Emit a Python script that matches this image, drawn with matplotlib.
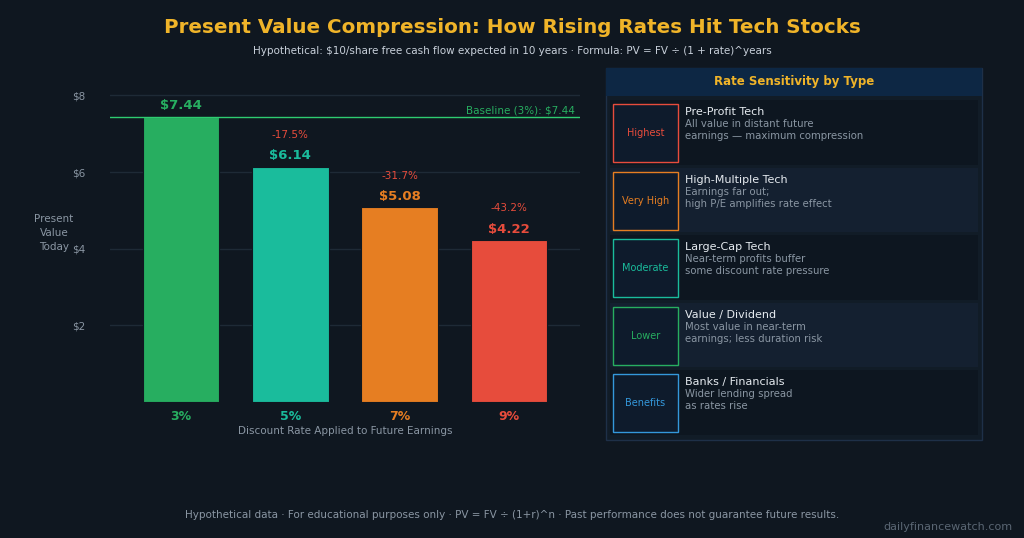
import matplotlib.pyplot as plt
from matplotlib.patches import Rectangle

rates = ["3%", "5%", "7%", "9%"]
values = [7.44, 6.14, 5.08, 4.22]
changes = [None, "-17.5%", "-31.7%", "-43.2%"]
colors = ["#27ae60", "#1abc9c", "#e67e22", "#e74c3c"]

types = ["Pre-Profit Tech", "High-Multiple Tech", "Large-Cap Tech", "Value / Dividend", "Banks / Financials"]
levels = ["Highest", "Very High", "Moderate", "Lower", "Benefits"]
descs = ["All value in distant future\nearnings — maximum compression",
         "Earnings far out;\nhigh P/E amplifies rate effect",
         "Near-term profits buffer\nsome discount rate pressure",
         "Most value in near-term\nearnings; less duration risk",
         "Wider lending spread\nas rates rise"]
level_colors = ["#e74c3c", "#e67e22", "#1abc9c", "#27ae60", "#3498db"]

BG = "#0f1720"
W, H = 1024, 538
fig = plt.figure(figsize=(W / 100, H / 100), dpi=100, facecolor=BG)

def fx(x): return x / W
def fy(y): return 1 - y / H

fig.text(0.5, fy(28), "Present Value Compression: How Rising Rates Hit Tech Stocks",
         ha="center", va="center", color="#f0b429", fontsize=14.3, fontweight="bold")
fig.text(0.5, fy(51), "Hypothetical: $10/share free cash flow expected in 10 years · Formula: PV = FV ÷ (1 + rate)^years",
         ha="center", va="center", color="#c8d0da", fontsize=7.5)

ax = fig.add_axes([fx(110), fy(402), fx(470), (402 - 84) / H])
ax.set_facecolor(BG)
x = range(len(rates))
ax.bar(x, values, width=0.7, color=colors, edgecolor=BG, linewidth=0.8, zorder=3)
ax.set_xlim(-0.65, 3.65)
ax.set_ylim(0, 8.3)
ax.set_yticks([2, 4, 6, 8])
ax.set_yticklabels(["$2", "$4", "$6", "$8"])
ax.grid(axis="y", color="#1e2a36", linewidth=1, zorder=0)
ax.tick_params(axis="y", colors="#8a96a3", labelsize=7.5, length=0, pad=18)
ax.set_xticks(list(x))
ax.set_xticklabels(rates)
for lbl, c in zip(ax.get_xticklabels(), colors):
    lbl.set_color(c)
    lbl.set_fontweight("bold")
    lbl.set_fontsize(9)
ax.tick_params(axis="x", length=0, pad=6)
for s in ax.spines.values():
    s.set_visible(False)
ax.axhline(values[0], color="#2ecc71", linewidth=1, zorder=4)
ax.text(3.6, values[0] + 0.05, f"Baseline (3%): ${values[0]:.2f}", ha="right", va="bottom",
        color="#27ae60", fontsize=7.5)
for i, (v, ch, c) in enumerate(zip(values, changes, colors)):
    ax.text(i, v + 0.12, f"${v:.2f}", ha="center", va="bottom", color=c, fontsize=9.5, fontweight="bold")
    if ch:
        ax.text(i, v + 0.7, ch, ha="center", va="bottom", color="#e74c3c", fontsize=7.5)
ax.set_xlabel("Discount Rate Applied to Future Earnings", color="#8a96a3", fontsize=7.5, labelpad=2)
fig.text(fx(54), fy(233), "Present\nValue\nToday", ha="center", va="center", color="#8a96a3",
         fontsize=7.5, linespacing=1.5)

# right panel
fig.patches.append(Rectangle((fx(606), fy(440)), fx(376), (440 - 68) / H, transform=fig.transFigure,
                             facecolor="#111c27", edgecolor="#1e3048", linewidth=1))
fig.patches.append(Rectangle((fx(606), fy(96)), fx(376), 28 / H, transform=fig.transFigure,
                             facecolor="#0d2744", edgecolor="none"))
fig.text(fx(794), fy(82), "Rate Sensitivity by Type", ha="center", va="center",
         color="#f0b429", fontsize=8.5, fontweight="bold")
row_h = 67.6
for i in range(5):
    top = 100 + i * row_h
    fig.patches.append(Rectangle((fx(610), fy(top + row_h - 3)), fx(368), (row_h - 3) / H,
                                 transform=fig.transFigure,
                                 facecolor="#0d1620" if i % 2 == 0 else "#142030", edgecolor="none"))
    fig.patches.append(Rectangle((fx(613), fy(top + 62)), fx(65), 58 / H, transform=fig.transFigure,
                                 facecolor="#0e1b2c", edgecolor=level_colors[i], linewidth=1))
    fig.text(fx(645.5), fy(top + 33), levels[i], ha="center", va="center", color=level_colors[i], fontsize=7)
    fig.text(fx(685), fy(top + 12), types[i], ha="left", va="center", color="#e6ebf0", fontsize=8)
    fig.text(fx(685), fy(top + 19), descs[i], ha="left", va="top", color="#8a96a3", fontsize=7.3,
             linespacing=1.25)

fig.text(0.5, fy(515), "Hypothetical data · For educational purposes only · PV = FV ÷ (1+r)^n · Past performance does not guarantee future results.",
         ha="center", va="center", color="#8a96a3", fontsize=7.5)
fig.text(fx(1012), fy(527), "dailyfinancewatch.com", ha="right", va="center", color="#5a6673", fontsize=8)

fig.savefig("out.png", dpi=100, facecolor=BG)
